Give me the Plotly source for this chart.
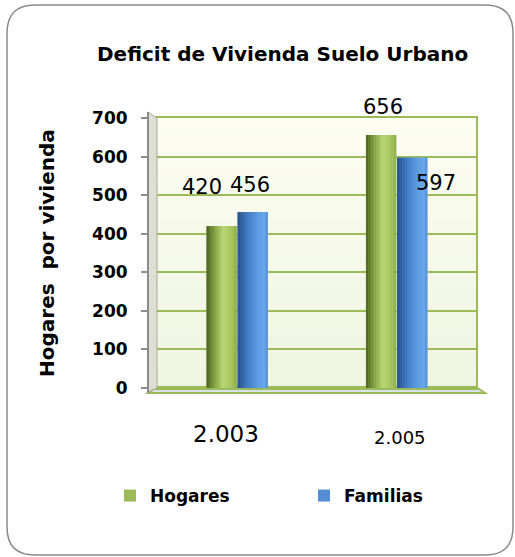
import plotly.graph_objects as go

# ---------------- data ----------------
categories = ["2.003", "2.005"]
hogares = [420, 656]
familias = [456, 597]
series_names = ["Hogares", "Familias"]
y_ticks = [0, 100, 200, 300, 400, 500, 600, 700]
title_text = "Deficit de Vivienda Suelo Urbano"
y_title = "Hogares  por vivienda"

# ---------------- layout geometry (pixels) ----------------
W_FIG, H_FIG = 515, 557
L, R, T, B = 157, 476, 118, 388


def px(x):
    return (x - L) / (R - L)


def py(y):
    return (B - y) / (B - T)


def hex2rgb(h):
    h = h.lstrip("#")
    return tuple(int(h[i:i + 2], 16) for i in (0, 2, 4))


def lerp(stops, t):
    for (t0, c0), (t1, c1) in zip(stops[:-1], stops[1:]):
        if t0 <= t <= t1:
            f = (t - t0) / (t1 - t0) if t1 > t0 else 0
            a, b = hex2rgb(c0), hex2rgb(c1)
            return "rgb(%d,%d,%d)" % tuple(round(a[i] + (b[i] - a[i]) * f) for i in range(3))
    return stops[-1][1]


FONT = "DejaVu Sans"
GREEN = "#9bbb59"
BLUE = "#558ed5"
green_stops = [(0, "#4d6224"), (0.25, "#7f9d3f"), (0.55, "#b9d673"), (0.85, "#a5c461"), (1, "#8cab4b")]
blue_stops = [(0, "#28518a"), (0.3, "#3f78bf"), (0.65, "#5c9be0"), (0.9, "#6aa8ec"), (1, "#4f8bd2")]
wall_stops = [(0, "#fdfdf2"), (1, "#eef5e0")]

BAR_W = 0.19
N = 12
series = [
    (series_names[0], hogares, GREEN, green_stops, -0.19, [(-35, 39), (-13, 28)]),
    (series_names[1], familias, BLUE, blue_stops, 0.005, [(13, 27), (40, -25)]),
]

fig = go.Figure()
annotations = []
for name, vals, col, stops, off, shifts in series:
    fig.add_trace(go.Bar(x=categories, y=vals, name=name, offset=off, width=BAR_W,
                         marker=dict(color=col, line=dict(width=0)), hoverinfo="skip"))
    for k in range(N):
        t = (k + 0.5) / N
        w = BAR_W / N
        fig.add_trace(go.Bar(x=categories, y=vals, offset=off + k * w,
                             width=w * (1.15 if k < N - 1 else 1.0),
                             marker=dict(color=lerp(stops, t), line=dict(width=0)),
                             showlegend=False, hoverinfo="skip"))
    for i, (v, (dx, dy)) in enumerate(zip(vals, shifts)):
        annotations.append(dict(x=i, y=v, xref="x", yref="y", text=str(v), showarrow=False,
                                xshift=dx, yshift=dy, font=dict(family=FONT, size=21, color="black")))

# category labels
cat_style = [(-11, -46, 23), (4, -49, 18)]
for i, (c, (dx, dy, fs)) in enumerate(zip(categories, cat_style)):
    annotations.append(dict(x=i, y=0, xref="x", yref="y", text=c, showarrow=False,
                            xshift=dx, yshift=dy, font=dict(family=FONT, size=fs, color="black")))

# title and axis title
annotations.append(dict(x=px(282), y=py(54), xref="paper", yref="paper", text="<b>%s</b>" % title_text,
                        showarrow=False, xanchor="center", yanchor="middle",
                        font=dict(family=FONT, size=20, color="black")))
annotations.append(dict(x=px(47), y=py(253), xref="paper", yref="paper", text="<b>%s</b>" % y_title,
                        showarrow=False, textangle=-90, xanchor="center", yanchor="middle",
                        font=dict(family=FONT, size=20, color="black")))

# decorative shapes
x0, x1, y0, y1, r = 7, 513, 5, 555, 28
frame = ("M {a},{b} L {c},{b} Q {d},{b} {d},{e} L {d},{f} Q {d},{g} {c},{g} "
         "L {a},{g} Q {h},{g} {h},{f} L {h},{e} Q {h},{b} {a},{b} Z").format(
    a=px(x0 + r), b=py(y0), c=px(x1 - r), d=px(x1), e=py(y0 + r), f=py(y1 - r), g=py(y1), h=px(x0))

left_wall = "M {a},{b} L {c},{d} L {c},{e} L {a},{f} Z".format(
    a=px(148), b=py(112), c=px(157), d=py(118), e=py(388), f=py(392))
floor = "M {a},{b} L {c},{d} L {e},{d} L {f},{b} Z".format(
    a=px(148), b=py(393), c=px(157), d=py(387), e=px(476), f=px(485))

shapes = []
NB = 27
for k in range(NB):
    shapes.append(dict(type="rect", xref="paper", yref="paper", x0=0, x1=1,
                       y0=1 - (k + 1) / NB, y1=1 - k / NB + 0.002,
                       fillcolor=lerp(wall_stops, (k + 0.5) / NB), line=dict(width=0), layer="below"))
shapes += [
    dict(type="path", path=frame, xref="paper", yref="paper", line=dict(color="#8a8a8a", width=1.5),
         fillcolor="rgba(0,0,0,0)", layer="below"),
    dict(type="path", path=left_wall, xref="paper", yref="paper", line=dict(color="#a9a9a0", width=1),
         fillcolor="#dcdfd2", layer="above"),
    dict(type="path", path=floor, xref="paper", yref="paper", line=dict(color=GREEN, width=2),
         fillcolor="#d9e1e8", layer="below"),
    dict(type="line", xref="paper", yref="paper", x0=px(148), x1=px(148), y0=py(112), y1=py(393),
         line=dict(color="#8c8c8c", width=2)),
]

fig.update_layout(
    width=W_FIG, height=H_FIG, autosize=False,
    margin=dict(l=L, r=W_FIG - R, t=T, b=H_FIG - B, pad=0),
    paper_bgcolor="white", plot_bgcolor="#f6f9ea",
    barmode="overlay",
    showlegend=True,
    legend=dict(orientation="h", x=px(110), xanchor="left", y=py(496), yanchor="middle",
                font=dict(family=FONT, size=17, color="black", weight="bold"),
                entrywidth=149, entrywidthmode="pixels", bgcolor="rgba(0,0,0,0)"),
    xaxis=dict(type="category", range=[-0.5, 1.5], showticklabels=False, ticks="", showgrid=False,
               showline=True, linecolor=GREEN, linewidth=2, mirror=True, zeroline=False),
    yaxis=dict(range=[0, 700], tickvals=y_ticks, ticks="outside", ticklen=14, tickcolor="#8c8c8c",
               tickwidth=1.5, ticklabelstandoff=10,
               tickfont=dict(family=FONT, size=17, color="black", weight="bold"),
               showgrid=True, gridcolor=GREEN, gridwidth=2, zeroline=False,
               showline=True, linecolor=GREEN, linewidth=2, mirror=True),
    annotations=annotations,
    shapes=shapes,
    font=dict(family=FONT),
)

fig.write_html("out.html", config={"displayModeBar": False},
               post_script="document.body.style.margin='0';")
